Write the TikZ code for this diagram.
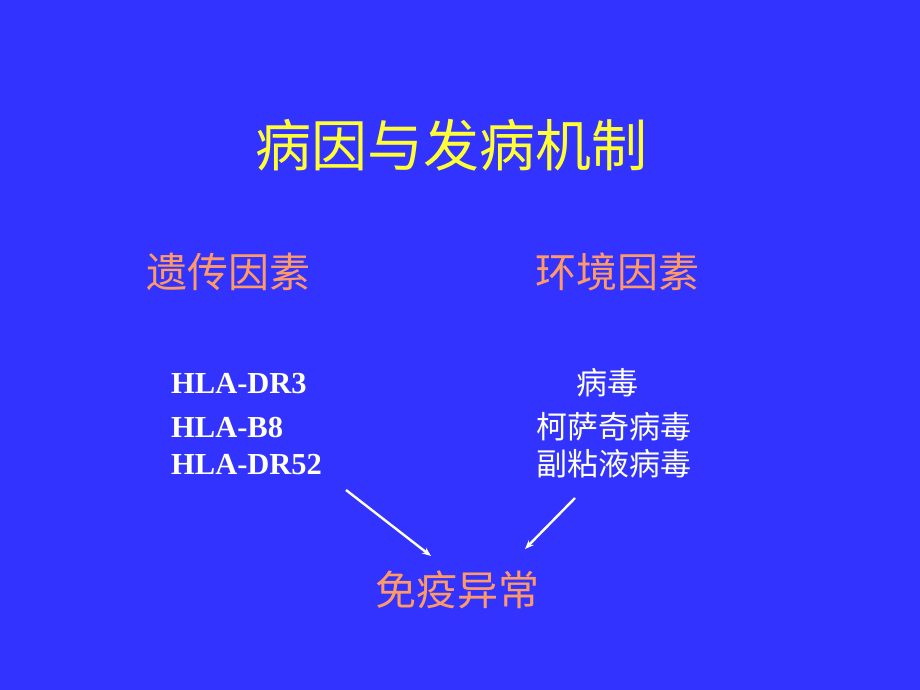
\documentclass[tikz,border=0pt]{standalone}
\usepackage{fontspec}
\setmainfont{Liberation Serif}
\newfontfamily\cjk{Noto Sans CJK SC}
\usetikzlibrary{arrows.meta}
\definecolor{bgblue}{HTML}{3333FF}
\definecolor{titleyellow}{HTML}{FFFF33}
\definecolor{headorange}{HTML}{FF9966}
\definecolor{bodywhite}{HTML}{FFFFEE}
\tikzset{
  titletext/.style={text=titleyellow, font=\cjk\fontsize{56}{62}\selectfont, inner sep=0pt},
  headtext/.style={text=headorange, font=\cjk\fontsize{41}{46}\selectfont, inner sep=0pt},
  hlatext/.style={text=bodywhite, font=\bfseries\fontsize{30.5}{35}\selectfont, inner sep=0pt, anchor=west},
  virtext/.style={text=bodywhite, font=\cjk\fontsize{31}{36}\selectfont, inner sep=0pt},
  arrowline/.style={draw=bodywhite, line width=2.4pt, -{Stealth[length=9pt,width=7pt]}}
}
\begin{document}
\begin{tikzpicture}[x=1pt,y=-1pt]
\fill[bgblue] (0,0) rectangle (920,690);
\useasboundingbox (0,0) rectangle (920,690);
\node[titletext] (title) at (451,145) {病因与发病机制};
\node[headtext] (gen) at (228,272) {遗传因素};
\node[headtext] (env) at (617,272) {环境因素};
\node[hlatext] (h1) at (171,384) {HLA-DR3};
\node[hlatext] (h2) at (171,428) {HLA-B8};
\node[hlatext] (h3) at (171,465) {HLA-DR52};
\node[virtext] (v1) at (607,383) {病毒};
\node[virtext] (v2) at (614,427) {柯萨奇病毒};
\node[virtext] (v3) at (614,464) {副粘液病毒};
\node[headtext] (imm) at (457,590) {免疫异常};
\coordinate (a1s) at (346,490);
\coordinate (a1e) at (431,556);
\coordinate (a2s) at (575,498);
\coordinate (a2e) at (525,549);
\draw[arrowline] (a1s) -- (a1e);
\draw[arrowline] (a2s) -- (a2e);
\end{tikzpicture}
\end{document}
